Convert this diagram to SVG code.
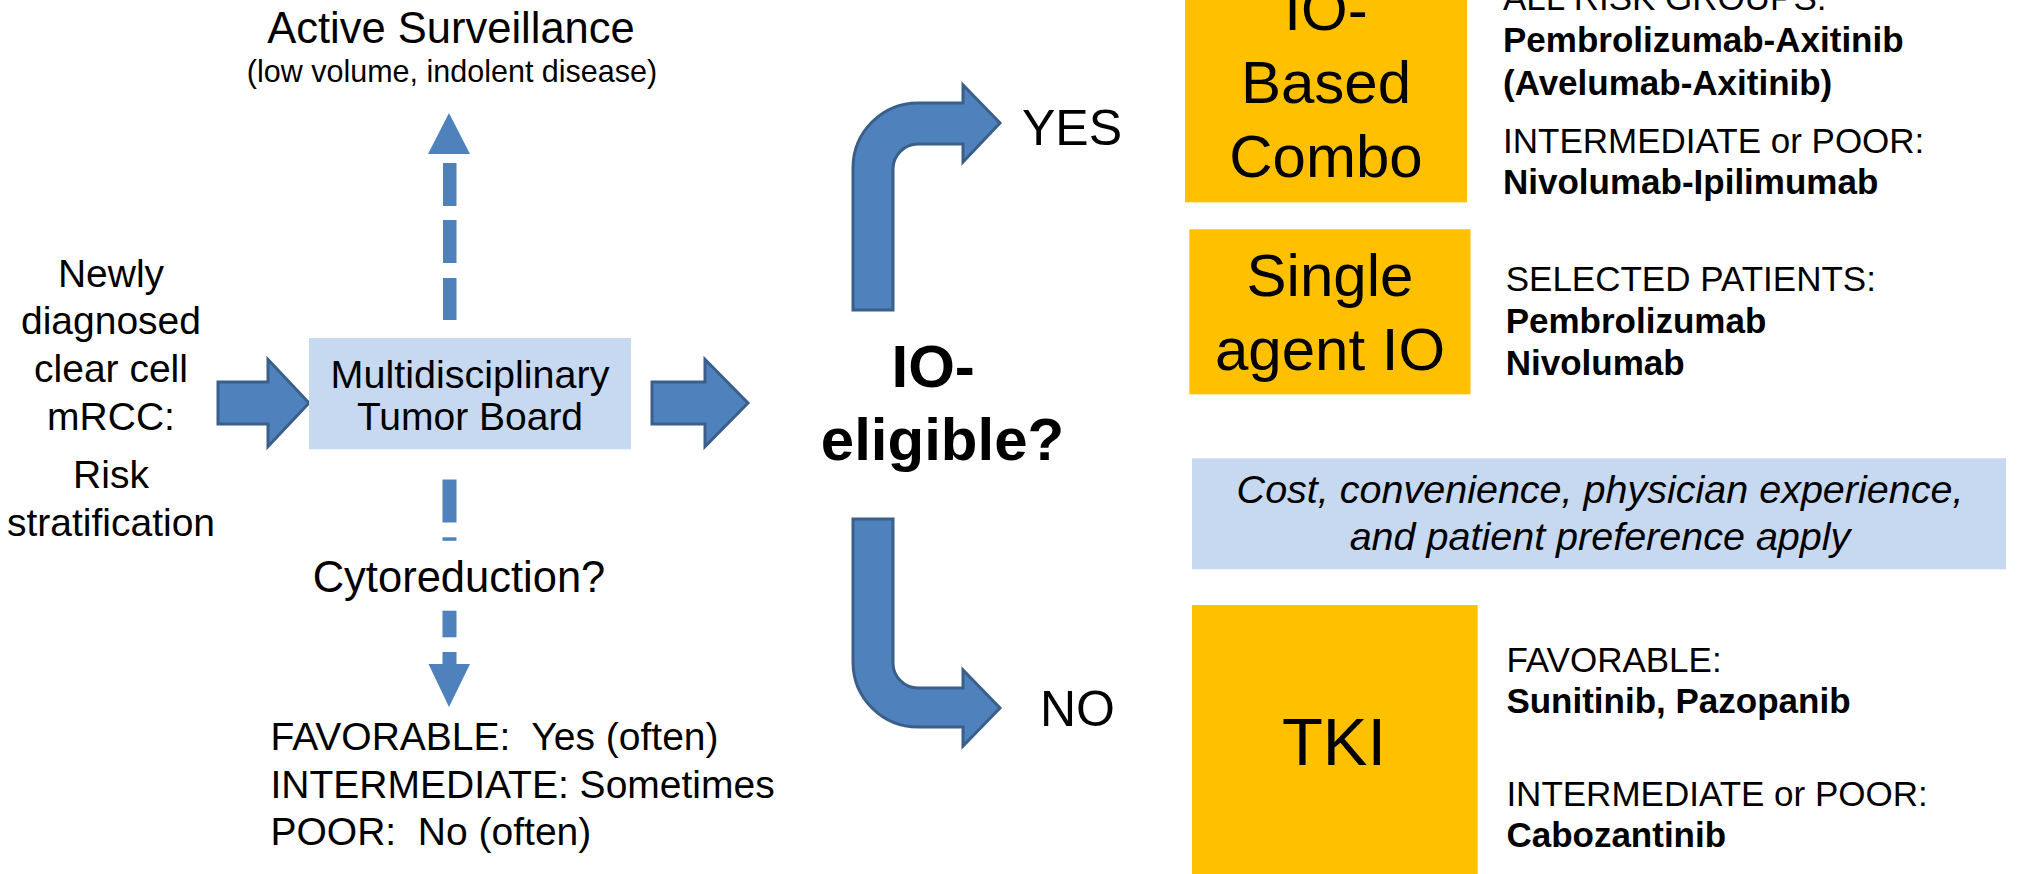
<svg xmlns="http://www.w3.org/2000/svg" width="2021" height="874" viewBox="0 0 2021 874">
<defs>
<style>
text{font-family:"Liberation Sans",Arial,sans-serif;fill:#000}
.c{text-anchor:middle}
.b{font-weight:bold}
.it{font-style:italic}
.blk{fill:#4F81BD;stroke:#3A5F8B;stroke-width:3;stroke-linejoin:miter}
.dash{fill:#4F81BD}
.or{fill:#FFC000}
.lb{fill:#C6D9F0}
.f39{font-size:39px}
.f35{font-size:35px}
.f60{font-size:60px}
</style>
</defs>
<rect width="2021" height="874" fill="#fff"/>

<g id="connectors">
  <!-- start -> board -->
  <path class="blk" d="M218 382 L268 382 L268 359.5 L309 403 L268 446.5 L268 424 L218 424 Z"/>
  <!-- board -> IO-eligible -->
  <path class="blk" d="M652 382 L705 382 L705 359.5 L748 403 L705 446.5 L705 424 L652 424 Z"/>
  <!-- up dashed to Active Surveillance -->
  <g id="arrow-up">
    <rect class="dash" x="443" y="163" width="13.5" height="43"/>
    <rect class="dash" x="443" y="220" width="13.5" height="43"/>
    <rect class="dash" x="443" y="278" width="13.5" height="42"/>
    <polygon class="dash" points="428,154 470,154 449,113"/>
  </g>
  <!-- down dashed to cytoreduction -->
  <g id="arrow-down">
    <rect class="dash" x="442.5" y="479.5" width="14" height="43"/>
    <rect class="dash" x="442.5" y="537.3" width="14" height="3.5"/>
    <rect class="dash" x="442.5" y="610.7" width="14" height="26.6"/>
    <rect class="dash" x="442.5" y="652" width="14" height="13"/>
    <polygon class="dash" points="428.5,664 470,664 449,707"/>
  </g>
  <!-- YES bent arrow -->
  <path class="blk" d="M853 310 L853 168 A65 65 0 0 1 918 103 L963 103 L963 85 L1000 123 L963 162 L963 144 L918 144 A25 25 0 0 0 893 169 L893 310 Z"/>
  <!-- NO bent arrow -->
  <path class="blk" d="M853 519 L893 519 L893 663 A25 25 0 0 0 918 688 L963 688 L963 670 L1000 708 L963 746 L963 727 L918 727 A65 65 0 0 1 853 662 Z"/>
</g>

<g id="active-surveillance">
  <text class="c" x="451" y="42.5" font-size="43.5">Active Surveillance</text>
  <text class="c" x="452" y="82" font-size="30.5">(low volume, indolent disease)</text>
</g>

<g id="start">
  <text class="c f39" x="111" y="287">Newly</text>
  <text class="c f39" x="111" y="334">diagnosed</text>
  <text class="c f39" x="111" y="382">clear cell</text>
  <text class="c f39" x="111" y="430">mRCC:</text>
  <text class="c f39" x="111" y="488">Risk</text>
  <text class="c f39" x="111" y="536">stratification</text>
</g>

<g id="tumor-board">
  <rect class="lb" x="309" y="338" width="322" height="111.3"/>
  <text class="c" x="470" y="388" font-size="39.5">Multidisciplinary</text>
  <text class="c f39" x="470" y="430">Tumor Board</text>
</g>

<g id="cytoreduction">
  <text class="c" x="459" y="591.5" font-size="43.5">Cytoreduction?</text>
</g>

<g id="cyto-risk">
  <text class="f39" x="270.5" y="750" xml:space="preserve">FAVORABLE:  Yes (often)</text>
  <text class="f39" x="270.5" y="797.5">INTERMEDIATE: Sometimes</text>
  <text class="f39" x="270.5" y="845" xml:space="preserve">POOR:  No (often)</text>
</g>

<g id="io-eligible">
  <text class="b" x="891.5" y="386.7" font-size="60">IO-</text>
  <text class="b c" x="942.5" y="460" font-size="60">eligible?</text>
</g>

<g id="yes-label"><text x="1022" y="145" font-size="50">YES</text></g>
<g id="no-label"><text x="1040" y="725.7" font-size="50">NO</text></g>

<g id="io-combo">
  <rect class="or" x="1185" y="-10" width="282" height="212.3"/>
  <text class="c f60" x="1326" y="29.5">IO-</text>
  <text class="c f60" x="1326" y="103.3">Based</text>
  <text class="c f60" x="1326" y="176.7">Combo</text>
</g>

<g id="io-combo-detail">
  <text class="f35" x="1503" y="9.5">ALL RISK GROUPS:</text>
  <text class="f35 b" x="1503" y="52">Pembrolizumab-Axitinib</text>
  <text class="f35 b" x="1503" y="95">(Avelumab-Axitinib)</text>
  <text class="f35" x="1503" y="152.7">INTERMEDIATE or POOR:</text>
  <text class="f35 b" x="1503" y="194">Nivolumab-Ipilimumab</text>
</g>

<g id="single-io">
  <rect class="or" x="1189.3" y="229.3" width="281.2" height="165"/>
  <text class="c f60" x="1330" y="296">Single</text>
  <text class="c f60" x="1330" y="370">agent IO</text>
</g>

<g id="single-io-detail">
  <text class="f35" x="1505.7" y="291">SELECTED PATIENTS:</text>
  <text class="f35 b" x="1505.7" y="333.3">Pembrolizumab</text>
  <text class="f35 b" x="1505.7" y="375">Nivolumab</text>
</g>

<g id="cost-note">
  <rect class="lb" x="1192" y="458.3" width="814" height="111"/>
  <text class="c it" x="1600" y="503.3" font-size="39.5">Cost, convenience, physician experience,</text>
  <text class="c it" x="1600" y="550" font-size="39.5">and patient preference apply</text>
</g>

<g id="tki">
  <rect class="or" x="1192" y="605" width="285.7" height="280"/>
  <text class="c" x="1334" y="765" font-size="67">TKI</text>
</g>

<g id="tki-detail">
  <text class="f35" x="1506.4" y="671.7">FAVORABLE:</text>
  <text class="f35 b" x="1506.4" y="713.3">Sunitinib, Pazopanib</text>
  <text class="f35" x="1506.4" y="805.7">INTERMEDIATE or POOR:</text>
  <text class="f35 b" x="1506.4" y="847.3">Cabozantinib</text>
</g>
</svg>
